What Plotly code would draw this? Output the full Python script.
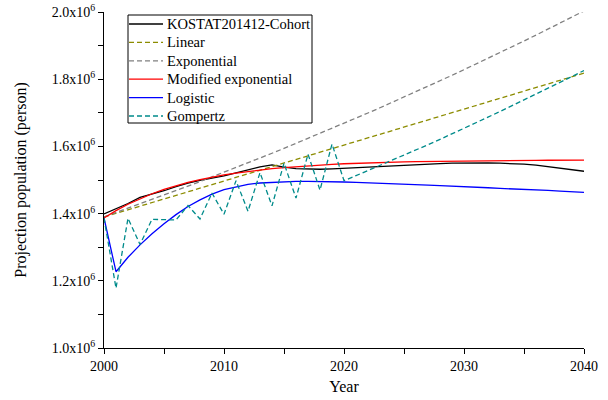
import numpy as np
import plotly.graph_objects as go

years = list(range(2000, 2041))

# values in millions of persons
kostat = [1.399, 1.414, 1.430, 1.448, 1.457, 1.468, 1.480, 1.491, 1.499, 1.505,
          1.512, 1.521, 1.531, 1.539, 1.545, 1.538, 1.534, 1.532, 1.532, 1.533,
          1.535, 1.537, 1.539, 1.541, 1.543, 1.545, 1.547, 1.548, 1.549, 1.550,
          1.551, 1.551, 1.551, 1.550, 1.549, 1.547, 1.544, 1.540, 1.536, 1.531,
          1.526]
linear = [1.390, 1.4007, 1.4114, 1.4221, 1.4328, 1.4435, 1.4542, 1.4649, 1.4756, 1.4863,
          1.4970, 1.5077, 1.5184, 1.5291, 1.5398, 1.5505, 1.5612, 1.5719, 1.5826, 1.5933,
          1.6040, 1.6147, 1.6254, 1.6361, 1.6468, 1.6575, 1.6682, 1.6789, 1.6896, 1.7003,
          1.7110, 1.7217, 1.7324, 1.7431, 1.7538, 1.7645, 1.7752, 1.7859, 1.7966, 1.8073,
          1.8180]
exponential = [1.390, 1.4028, 1.4156, 1.4286, 1.4417, 1.4550, 1.4683, 1.4818, 1.4954, 1.5091,
               1.5230, 1.5369, 1.5510, 1.5653, 1.5796, 1.5941, 1.6088, 1.6235, 1.6384, 1.6535,
               1.6686, 1.6840, 1.6994, 1.7150, 1.7307, 1.7466, 1.7627, 1.7788, 1.7952, 1.8116,
               1.8283, 1.8450, 1.8620, 1.8791, 1.8963, 1.9137, 1.9313, 1.9490, 1.9669, 1.9849,
               2.0031]
mod_exp = [1.387, 1.4088, 1.4278, 1.4445, 1.4591, 1.4718, 1.4829, 1.4926, 1.5011, 1.5085,
           1.5150, 1.5207, 1.5256, 1.5300, 1.5337, 1.5371, 1.5399, 1.5425, 1.5447, 1.5466,
           1.5483, 1.5498, 1.5511, 1.5522, 1.5532, 1.5540, 1.5548, 1.5554, 1.5560, 1.5565,
           1.5570, 1.5573, 1.5577, 1.5580, 1.5582, 1.5584, 1.5587, 1.5588, 1.5590, 1.5591,
           1.5592]
logistic = [1.387, 1.227, 1.270, 1.307, 1.340, 1.370, 1.397, 1.421, 1.441, 1.458,
            1.471, 1.480, 1.487, 1.491, 1.493, 1.495, 1.496, 1.496, 1.496, 1.495,
            1.494, 1.493, 1.492, 1.490, 1.489, 1.488, 1.486, 1.485, 1.483, 1.482,
            1.480, 1.479, 1.477, 1.475, 1.474, 1.472, 1.470, 1.469, 1.467, 1.465,
            1.463]
gompertz = [1.387, 1.178, 1.386, 1.308, 1.383, 1.381, 1.381, 1.424, 1.384, 1.461,
            1.398, 1.498, 1.407, 1.522, 1.423, 1.550, 1.446, 1.577, 1.470, 1.607,
            1.498, 1.513, 1.528, 1.543, 1.558, 1.574, 1.590, 1.605, 1.621, 1.637,
            1.654, 1.670, 1.687, 1.704, 1.721, 1.738, 1.755, 1.773, 1.790, 1.808,
            1.826]

series_names = ["KOSTAT201412-Cohort", "Linear", "Exponential",
                "Modified exponential", "Logistic", "Gompertz"]
series_vals = [kostat, linear, exponential, mod_exp, logistic, gompertz]
series_colors = ["#000000", "#8C8C00", "#808080", "#FF0000", "#0000FF", "#008B8B"]
series_dash = ["solid", "5px,3px", "5px,3px", "solid", "solid", "5px,3px"]

y_tick_vals = [1.0, 1.1, 1.2, 1.3, 1.4, 1.5, 1.6, 1.7, 1.8, 1.9, 2.0]
y_tick_text = ["1.0x10<sup>6</sup>", "", "1.2x10<sup>6</sup>", "", "1.4x10<sup>6</sup>", "",
               "1.6x10<sup>6</sup>", "", "1.8x10<sup>6</sup>", "", "2.0x10<sup>6</sup>"]
x_tick_vals = [2000, 2005, 2010, 2015, 2020, 2025, 2030, 2035, 2040]
x_tick_text = ["2000", "", "2010", "", "2020", "", "2030", "", "2040"]

FONT = "Liberation Serif"

# figure geometry (pixels)
W, H = 608, 400
ML, MR, MT, MB = 104, 24, 12, 52
PW, PH = W - ML - MR, H - MT - MB


def px_x(px):
    return (px - ML) / PW


def px_y(py):
    return (H - MB - py) / PH


fig = go.Figure()
for name, vals, col, dash in zip(series_names, series_vals, series_colors, series_dash):
    fig.add_trace(go.Scatter(
        x=years, y=np.array(vals) * 1e6, mode="lines", name=name,
        line=dict(color=col, width=1.3, dash=dash), showlegend=False,
    ))

# hand-built legend box to match the compact spacing of the original
LEG_LEFT, LEG_RIGHT, LEG_TOP, LEG_BOTTOM = 128, 312, 15, 123
ROW0, ROW_STEP = 24, 18.4
SAMPLE_X0, SAMPLE_X1, TEXT_X = 129, 163, 165

shapes = [dict(type="rect", xref="paper", yref="paper",
               x0=px_x(LEG_LEFT), x1=px_x(LEG_RIGHT), y0=px_y(LEG_BOTTOM), y1=px_y(LEG_TOP),
               line=dict(color="black", width=1), fillcolor="rgba(0,0,0,0)", layer="above")]
annotations = []
for i, (name, col, dash) in enumerate(zip(series_names, series_colors, series_dash)):
    ry = px_y(ROW0 + i * ROW_STEP)
    shapes.append(dict(type="line", xref="paper", yref="paper",
                       x0=px_x(SAMPLE_X0), x1=px_x(SAMPLE_X1), y0=ry, y1=ry,
                       line=dict(color=col, width=1.3, dash=dash), layer="above"))
    annotations.append(dict(text=name, xref="paper", yref="paper", x=px_x(TEXT_X), y=ry,
                            xanchor="left", yanchor="middle", showarrow=False,
                            font=dict(family=FONT, size=14.5, color="black")))

fig.update_layout(
    width=W, height=H,
    margin=dict(l=ML, r=MR, t=MT, b=MB),
    paper_bgcolor="white", plot_bgcolor="white",
    font=dict(family=FONT, size=14, color="black"),
    showlegend=False,
    shapes=shapes,
    annotations=annotations,
    xaxis=dict(
        range=[2000, 2040], tickmode="array", tickvals=x_tick_vals, ticktext=x_tick_text,
        showline=True, linecolor="black", linewidth=1, mirror=False,
        ticks="outside", ticklen=5, tickcolor="black", tickwidth=1,
        showgrid=False, zeroline=False, automargin=False,
        title=dict(text="Year", font=dict(family=FONT, size=16), standoff=8),
    ),
    yaxis=dict(
        range=[1.0e6, 2.0e6], tickmode="array",
        tickvals=[v * 1e6 for v in y_tick_vals], ticktext=y_tick_text,
        showline=True, linecolor="black", linewidth=1, mirror=False,
        ticks="outside", ticklen=5, tickcolor="black", tickwidth=1,
        showgrid=False, zeroline=False, automargin=False,
        title=dict(text="Projection population (person)", font=dict(family=FONT, size=16), standoff=21),
    ),
)

fig.write_html("out.html", config={"displayModeBar": False},
               post_script="document.body.style.margin='0';")
